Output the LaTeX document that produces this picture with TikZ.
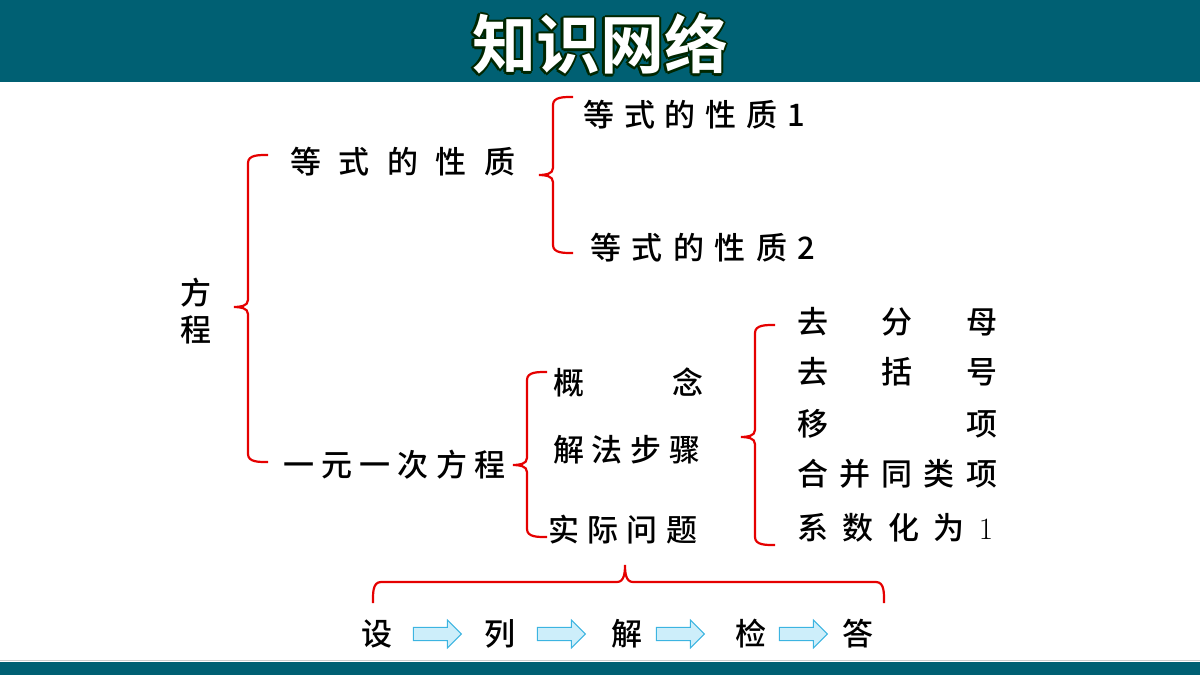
\documentclass[tikz,border=0pt]{standalone}
\usepackage{fontspec}
\newfontfamily\cjk{Noto Sans CJK SC Medium}
\newfontfamily\cjkb{Noto Sans CJK SC Bold}
\usetikzlibrary{shapes.arrows}
\definecolor{teal0}{RGB}{0,96,115}
\definecolor{arrowfill}{RGB}{205,238,250}
\definecolor{arrowline}{RGB}{60,180,225}
\newcommand\spr[2]{\makebox[#1pt][s]{#2}}
\newcommand\mybrace[4]{\draw[br] (#1+20,#2) to[out=180,in=90] (#1,#2+8) -- (#1,#4-7) to[out=-90,in=0] (#1-14,#4) to[out=0,in=90] (#1,#4+7) -- (#1,#3-8) to[out=-90,in=180] (#1+20,#3);}
\begin{document}
\begin{tikzpicture}[x=1pt,y=-1pt,
  br/.style={red!90!black,line width=2.2pt},
  t/.style={font=\cjk\fontsize{31}{33}\selectfont,inner sep=0pt,anchor=west},
  ar/.style={single arrow,draw=arrowline,fill=arrowfill,line width=1pt,minimum height=48pt,minimum width=28pt,single arrow head extend=5pt,inner sep=4pt}]
\useasboundingbox (0,0) rectangle (1200,675);
\fill[teal0] (0,0) rectangle (1200,82);
\fill[teal0] (0,662) rectangle (1200,675);
\draw[gray!40] (0,660) -- (1200,660);
\foreach \dx/\dy in {-2.5/0,2.5/0,0/-2.5,0/2.5,-1.8/-1.8,1.8/1.8,-1.8/1.8,1.8/-1.8}
  \node[font=\cjkb\fontsize{64}{68}\selectfont,text=black!85!green] at (600+\dx,44+\dy) {知识网络};
\node (title) [font=\cjkb\fontsize{64}{68}\selectfont,text=white] at (600,44) {知识网络};
% braces
\mybrace{248}{155}{462}{307}
\mybrace{553}{97}{253}{175}
\mybrace{527}{372}{537}{465}
\mybrace{755}{325}{545}{437}
\draw[br] (373,603) to[out=90,in=180] (381,582) -- (617,582) to[out=0,in=-90] (625,565) to[out=-90,in=180] (633,582) -- (876,582) to[out=0,in=90] (884,603);
% texts
\node[t] (fc1) at (180,293) {方};
\node[t] (fc2) at (180,330) {程};
\node[t] (dx) at (290,162) {\spr{225}{等\hfill 式\hfill 的\hfill 性\hfill 质}};
\node[t] (dx1) at (583,115) {\spr{222}{等\hfill 式\hfill 的\hfill 性\hfill 质\hfill 1}};
\node[t] (dx2) at (590,248) {\spr{225}{等\hfill 式\hfill 的\hfill 性\hfill 质\hfill 2}};
\node[t] (yy) at (283,465) {\spr{222}{一\hfill 元\hfill 一\hfill 次\hfill 方\hfill 程}};
\node[t] (gn) at (553,383) {\spr{150}{概\hfill 念}};
\node[t] (jf) at (553,450) {\spr{147}{解\hfill 法\hfill 步\hfill 骤}};
\node[t] (sj) at (548,530) {\spr{149}{实\hfill 际\hfill 问\hfill 题}};
\node[t] (s1) at (797,322) {\spr{200}{去\hfill 分\hfill 母}};
\node[t] (s2) at (797,372) {\spr{200}{去\hfill 括\hfill 号}};
\node[t] (s3) at (797,424) {\spr{200}{移\hfill 项}};
\node[t] (s4) at (797,474) {\spr{200}{合\hfill 并\hfill 同\hfill 类\hfill 项}};
\node[t] (s5) at (797,528) {\spr{196}{系\hfill 数\hfill 化\hfill 为\hfill {\rmfamily 1}}};
\node[t,anchor=center] (b1) at (377,634) {设};
\node[t,anchor=center] (b2) at (500,634) {列};
\node[t,anchor=center] (b3) at (627,634) {解};
\node[t,anchor=center] (b4) at (751,634) {检};
\node[t,anchor=center] (b5) at (858,634) {答};
\node[ar] (a1) at (434,634) {};
\node[ar] (a2) at (558,634) {};
\node[ar] (a3) at (677,634) {};
\node[ar] (a4) at (800,634) {};
\end{tikzpicture}
\end{document}
